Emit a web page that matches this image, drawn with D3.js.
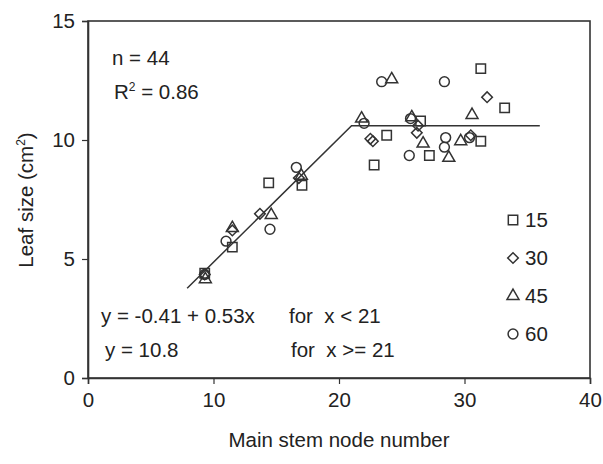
<!DOCTYPE html>
<html><head><meta charset="utf-8">
<script src="https://cdn.jsdelivr.net/npm/d3@7"></script>
<style>body{margin:0;background:#fff}svg{display:block}text{font-family:"Liberation Sans",Arial,sans-serif;fill:#222}</style>
</head><body><svg id="c" width="603" height="464"></svg>
<script>
const xTicks=[0,10,20,30,40];
const yTicks=[0,5,10,15];
const s15x=[31.3,33.2,26.5,23.8,22.8,27.2,31.3,14.4,17.05,11.5,9.3];
const s15y=[13.0,11.35,10.8,10.2,8.95,9.35,9.95,8.2,8.1,5.5,4.4];
const s30x=[31.8,22.5,22.7,26.3,26.2,30.5,13.7,16.8,11.5,9.3];
const s30y=[11.8,10.05,9.95,10.6,10.3,10.2,6.9,8.4,6.2,4.35];
const s45x=[24.2,21.8,25.8,30.6,26.7,28.75,29.7,17.0,14.6,11.5,9.35];
const s45y=[12.55,10.9,10.95,11.05,9.85,9.25,9.95,8.5,6.85,6.3,4.15];
const s60x=[23.4,28.4,22.0,25.7,25.6,28.5,28.4,30.4,16.6,14.5,11.0,9.3];
const s60y=[12.45,12.45,10.7,10.9,9.35,10.1,9.7,10.1,8.85,6.25,5.75,4.35];
const fitX=[7.9,21,36];
const fitY=[3.77,10.6,10.6];
const legendLabels=["15","30","45","60"];

const svg=d3.select("#c");
const L=88,R=590,T=21,B=378;
const x=d3.scaleLinear().domain([0,40]).range([L,R]);
const y=d3.scaleLinear().domain([0,15]).range([B,T]);
const ink="#333";
const fs="20.5px";

svg.append("rect").attr("x",L).attr("y",T).attr("width",R-L).attr("height",B-T)
  .attr("fill","none").attr("stroke",ink).attr("stroke-width",1.6);

const xa=svg.append("g").attr("transform",`translate(0,${B})`)
  .call(d3.axisBottom(x).tickValues(xTicks).tickSize(6).tickPadding(8));
const ya=svg.append("g").attr("transform",`translate(${L},0)`)
  .call(d3.axisLeft(y).tickValues(yTicks).tickSize(6).tickPadding(7));
[xa,ya].forEach(a=>{a.select(".domain").attr("stroke",ink).attr("stroke-width",1.6);
  a.selectAll(".tick line").attr("stroke",ink).attr("stroke-width",1.2);
  a.selectAll("text").style("font-size",fs).attr("fill","#222");});

svg.append("path").datum(fitX.map((d,i)=>[d,fitY[i]]))
  .attr("d",d3.line().x(d=>x(d[0])).y(d=>y(d[1])))
  .attr("fill","none").attr("stroke",ink).attr("stroke-width",1.5);

const series=[
 {xs:s15x,ys:s15y,type:d3.symbolSquare,size:88,rot:0},
 {xs:s30x,ys:s30y,type:d3.symbolSquare,size:56,rot:45},
 {xs:s45x,ys:s45y,type:d3.symbolTriangle,size:62,rot:0},
 {xs:s60x,ys:s60y,type:d3.symbolCircle,size:76,rot:0}
];
series.forEach(s=>{
  const p=d3.symbol().type(s.type).size(s.size)();
  svg.append("g").selectAll("path").data(s.xs.map((d,i)=>[d,s.ys[i]])).join("path")
    .attr("d",p).attr("transform",d=>`translate(${x(d[0])},${y(d[1])}) rotate(${s.rot})`)
    .attr("fill","none").attr("stroke",ink).attr("stroke-width",1.5);
});

const lg=svg.append("g");
series.forEach((s,i)=>{
  const cy=220+i*38;
  lg.append("path").attr("d",d3.symbol().type(s.type).size(s.size)())
    .attr("transform",`translate(513,${cy}) rotate(${s.rot})`)
    .attr("fill","none").attr("stroke",ink).attr("stroke-width",1.5);
  lg.append("text").attr("x",525).attr("y",cy+7).style("font-size",fs).text(legendLabels[i]);
});

svg.append("text").attr("x",112).attr("y",65).style("font-size",fs).text("n = 44");
const r2=svg.append("text").attr("x",114).attr("y",99).style("font-size",fs);
r2.append("tspan").text("R");
r2.append("tspan").attr("dy",-8).style("font-size","12px").text("2");
r2.append("tspan").attr("dy",8).text(" = 0.86");
svg.append("text").attr("x",101).attr("y",323).style("font-size",fs).text("y = -0.41 + 0.53x");
svg.append("text").attr("x",289).attr("y",323).style("font-size",fs).attr("xml:space","preserve").text("for  x < 21");
svg.append("text").attr("x",105).attr("y",357).style("font-size",fs).text("y = 10.8");
svg.append("text").attr("x",291).attr("y",357).style("font-size",fs).attr("xml:space","preserve").text("for  x >= 21");

svg.append("text").attr("x",339).attr("y",447).attr("text-anchor","middle").style("font-size",fs).text("Main stem node number");
const yt=svg.append("text").attr("transform","translate(33,200) rotate(-90)").attr("text-anchor","middle").style("font-size",fs);
yt.append("tspan").text("Leaf size (cm");
yt.append("tspan").attr("dy",-8).style("font-size","12px").text("2");
yt.append("tspan").attr("dy",8).text(")");
</script></body></html>
